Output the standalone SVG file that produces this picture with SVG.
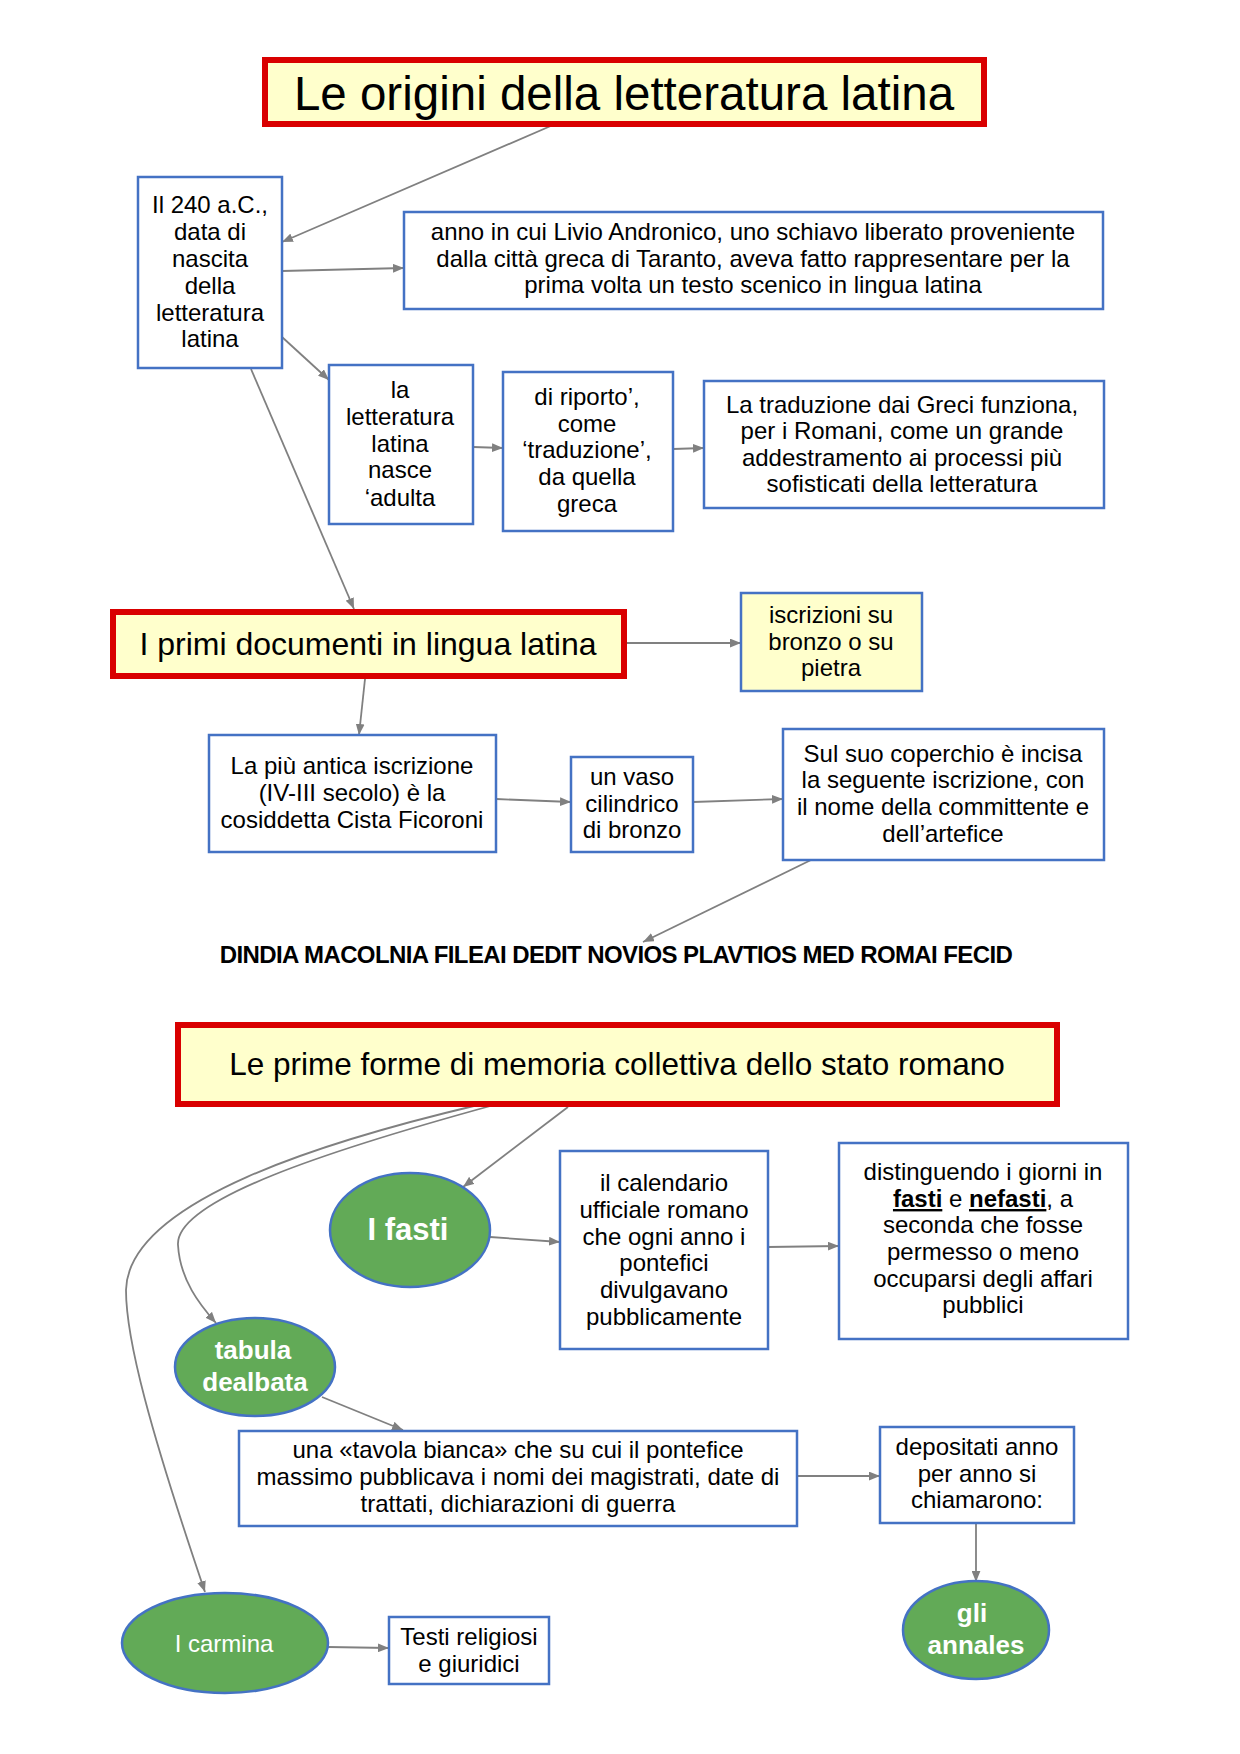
<svg xmlns="http://www.w3.org/2000/svg" width="1240" height="1754" viewBox="0 0 1240 1754">
<defs>
<style>
text{font-family:"Liberation Sans",Arial,Helvetica,sans-serif;fill:#000;text-anchor:middle}
.t{font-size:24px}
.title{fill:#FFFFCC;stroke:#D90000;stroke-width:6}
.box{fill:#fff;stroke:#4472C4;stroke-width:2.5}
.ybox{fill:#FFFFCC;stroke:#4472C4;stroke-width:2.5}
.ell{fill:#62AA57;stroke:#4472C4;stroke-width:2.5}
.w{fill:#fff;font-weight:bold}
.c{fill:none;stroke:#808080;stroke-width:1.8;marker-end:url(#ah)}
</style>
<marker id="ah" viewBox="0 0 10 8" refX="10" refY="4" markerWidth="11" markerHeight="9" markerUnits="userSpaceOnUse" orient="auto">
<path d="M0,0 L10,4 L0,8 z" fill="#808080"/>
</marker>
</defs>
<rect width="1240" height="1754" fill="#fff"/>

<g id="connectors">
<line class="c" x1="553" y1="125" x2="282" y2="242"/>
<line class="c" x1="282" y1="271" x2="404" y2="268"/>
<line class="c" x1="282" y1="337" x2="329" y2="380"/>
<line class="c" x1="251" y1="369" x2="354" y2="609"/>
<line class="c" x1="473" y1="447" x2="503" y2="448"/>
<line class="c" x1="673" y1="449" x2="704" y2="448"/>
<line class="c" x1="627" y1="643" x2="741" y2="643"/>
<line class="c" x1="365" y1="679" x2="359" y2="735"/>
<line class="c" x1="496" y1="799" x2="571" y2="802"/>
<line class="c" x1="693" y1="802" x2="783" y2="799"/>
<line class="c" x1="811" y1="860" x2="643" y2="942"/>
<line class="c" x1="568" y1="1107" x2="463" y2="1187"/>
<path class="c" d="M494,1105 C330,1150 175,1200 178,1245 C180,1280 200,1305 216,1323"/>
<path class="c" d="M478,1105 C330,1140 128,1200 126,1290 C126,1340 150,1430 205,1592"/>
<line class="c" x1="490" y1="1237" x2="560" y2="1242"/>
<line class="c" x1="768" y1="1247" x2="839" y2="1246"/>
<line class="c" x1="322" y1="1397" x2="403" y2="1430"/>
<line class="c" x1="797" y1="1476" x2="880" y2="1476"/>
<line class="c" x1="976" y1="1523" x2="976" y2="1582"/>
<line class="c" x1="328" y1="1647" x2="389" y2="1648"/>
</g>

<g id="title1">
<rect class="title" x="265" y="60" width="719" height="64"/>
<text x="624" y="110" style="font-size:47.5px">Le origini della letteratura latina</text>
</g>

<g id="n240">
<rect class="box" x="138" y="177" width="144" height="191"/>
<text class="t" x="210" y="213">Il 240 a.C.,</text>
<text class="t" x="210" y="240">data di</text>
<text class="t" x="210" y="267">nascita</text>
<text class="t" x="210" y="294">della</text>
<text class="t" x="210" y="321">letteratura</text>
<text class="t" x="210" y="347">latina</text>
</g>

<g id="anno">
<rect class="box" x="404" y="212" width="699" height="97"/>
<text class="t" x="753" y="240">anno in cui Livio Andronico, uno schiavo liberato proveniente</text>
<text class="t" x="753" y="267">dalla città greca di Taranto, aveva fatto rappresentare per la</text>
<text class="t" x="753" y="293">prima volta un testo scenico in lingua latina</text>
</g>

<g id="adulta">
<rect class="box" x="329" y="365" width="144" height="159"/>
<text class="t" x="400" y="398">la</text>
<text class="t" x="400" y="425">letteratura</text>
<text class="t" x="400" y="452">latina</text>
<text class="t" x="400" y="478">nasce</text>
<text class="t" x="400" y="506">‘adulta</text>
</g>

<g id="riporto">
<rect class="box" x="503" y="372" width="170" height="159"/>
<text class="t" x="587" y="405">di riporto’,</text>
<text class="t" x="587" y="432">come</text>
<text class="t" x="587" y="458">‘traduzione’,</text>
<text class="t" x="587" y="485">da quella</text>
<text class="t" x="587" y="512">greca</text>
</g>

<g id="traduzione">
<rect class="box" x="704" y="381" width="400" height="127"/>
<text class="t" x="902" y="413">La traduzione dai Greci funziona,</text>
<text class="t" x="902" y="439">per i Romani, come un grande</text>
<text class="t" x="902" y="466">addestramento ai processi più</text>
<text class="t" x="902" y="492">sofisticati della letteratura</text>
</g>

<g id="title2">
<rect class="title" x="113" y="612" width="511" height="64"/>
<text x="368" y="655" style="font-size:32px">I primi documenti in lingua latina</text>
</g>

<g id="iscrizioni">
<rect class="ybox" x="741" y="593" width="181" height="98"/>
<text class="t" x="831" y="623">iscrizioni su</text>
<text class="t" x="831" y="650">bronzo o su</text>
<text class="t" x="831" y="676">pietra</text>
</g>

<g id="antica">
<rect class="box" x="209" y="735" width="287" height="117"/>
<text class="t" x="352" y="774">La più antica iscrizione</text>
<text class="t" x="352" y="801">(IV-III secolo) è la</text>
<text class="t" x="352" y="828">cosiddetta Cista Ficoroni</text>
</g>

<g id="vaso">
<rect class="box" x="571" y="757" width="122" height="95"/>
<text class="t" x="632" y="785">un vaso</text>
<text class="t" x="632" y="812">cilindrico</text>
<text class="t" x="632" y="838">di bronzo</text>
</g>

<g id="coperchio">
<rect class="box" x="783" y="729" width="321" height="131"/>
<text class="t" x="943" y="762">Sul suo coperchio è incisa</text>
<text class="t" x="943" y="788">la seguente iscrizione, con</text>
<text class="t" x="943" y="815">il nome della committente e</text>
<text class="t" x="943" y="842">dell’artefice</text>
</g>

<g id="inscription">
<text x="616" y="963" style="font-size:24px;font-weight:bold;letter-spacing:-0.6px">DINDIA MACOLNIA FILEAI DEDIT NOVIOS PLAVTIOS MED ROMAI FECID</text>
</g>

<g id="title3">
<rect class="title" x="178" y="1025" width="879" height="79"/>
<text x="617" y="1075" style="font-size:31.5px">Le prime forme di memoria collettiva dello stato romano</text>
</g>

<g id="fasti">
<ellipse class="ell" cx="410" cy="1230" rx="80" ry="57"/>
<text class="w" x="408" y="1240" style="font-size:31px">I fasti</text>
</g>

<g id="calendario">
<rect class="box" x="560" y="1151" width="208" height="198"/>
<text class="t" x="664" y="1191">il calendario</text>
<text class="t" x="664" y="1218">ufficiale romano</text>
<text class="t" x="664" y="1245">che ogni anno i</text>
<text class="t" x="664" y="1271">pontefici</text>
<text class="t" x="664" y="1298">divulgavano</text>
<text class="t" x="664" y="1325">pubblicamente</text>
</g>

<g id="distinguendo">
<rect class="box" x="839" y="1143" width="289" height="196"/>
<text class="t" x="983" y="1180">distinguendo i giorni in</text>
<text class="t" x="983" y="1207"><tspan font-weight="bold" text-decoration="underline">fasti</tspan> e <tspan font-weight="bold" text-decoration="underline">nefasti</tspan>, a</text>
<text class="t" x="983" y="1233">seconda che fosse</text>
<text class="t" x="983" y="1260">permesso o meno</text>
<text class="t" x="983" y="1287">occuparsi degli affari</text>
<text class="t" x="983" y="1313">pubblici</text>
</g>

<g id="tabula">
<ellipse class="ell" cx="255" cy="1367" rx="80" ry="49"/>
<text class="w" x="253" y="1359" style="font-size:26px">tabula</text>
<text class="w" x="255" y="1391" style="font-size:26px">dealbata</text>
</g>

<g id="tavola">
<rect class="box" x="239" y="1431" width="558" height="95"/>
<text class="t" x="518" y="1458">una «tavola bianca» che su cui il pontefice</text>
<text class="t" x="518" y="1485">massimo pubblicava i nomi dei magistrati, date di</text>
<text class="t" x="518" y="1512">trattati, dichiarazioni di guerra</text>
</g>

<g id="depositati">
<rect class="box" x="880" y="1427" width="194" height="96"/>
<text class="t" x="977" y="1455">depositati anno</text>
<text class="t" x="977" y="1482">per anno si</text>
<text class="t" x="977" y="1508">chiamarono:</text>
</g>

<g id="annales">
<ellipse class="ell" cx="976" cy="1630" rx="73" ry="49"/>
<text class="w" x="972" y="1622" style="font-size:26px">gli</text>
<text class="w" x="976" y="1654" style="font-size:26px">annales</text>
</g>

<g id="carmina">
<ellipse class="ell" cx="225" cy="1643" rx="103" ry="50"/>
<text x="224" y="1652" style="font-size:24px;fill:#fff">I carmina</text>
</g>

<g id="testi">
<rect class="box" x="389" y="1617" width="160" height="67"/>
<text class="t" x="469" y="1645">Testi religiosi</text>
<text class="t" x="469" y="1672">e giuridici</text>
</g>
</svg>
